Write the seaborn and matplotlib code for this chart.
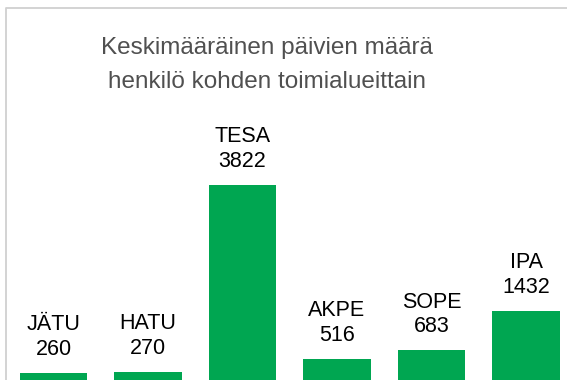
import matplotlib
matplotlib.use("Agg")
import matplotlib.pyplot as plt
import seaborn as sns
import pandas as pd
from matplotlib.lines import Line2D

# Chart data
categories = ["JÄTU", "HATU", "TESA", "AKPE", "SOPE", "IPA"]
values = [260, 270, 3822, 516, 683, 1432]
title_lines = ["Keskimääräinen päivien määrä", "henkilö kohden toimialueittain"]

W, H = 567, 380
sns.set_theme(style="white")
plt.rcParams["font.family"] = ["Liberation Sans", "DejaVu Sans"]

fig = plt.figure(figsize=(W / 100, H / 100), dpi=100)
fig.patch.set_facecolor("white")

# Plot area: the value axis runs from the zero line (just below the bottom edge) up to the frame
base_px, top_px = 386.4, 8.0
left_px, right_px = 6.25, 573.25
ymax = 7182
ax = fig.add_axes([left_px / W, (H - base_px) / H,
                   (right_px - left_px) / W, (base_px - top_px) / H])

df = pd.DataFrame({"cat": categories, "val": values})
sns.barplot(data=df, x="cat", y="val", ax=ax, color="#00A651",
            width=0.71, saturation=1, edgecolor="none")
ax.set_ylim(0, ymax)
ax.set_xlim(-0.5, len(categories) - 0.5)
ax.axis("off")

for i, (c, v) in enumerate(zip(categories, values)):
    ax.annotate(f"{c}\n{v}", xy=(i, v), xytext=(0, 9.5), textcoords="offset points",
                ha="center", va="bottom", fontsize=15.5, color="black",
                linespacing=1.22)

# Two-line title
for line, base in zip(title_lines, [54, 88]):
    fig.text(266.5 / W, 1 - base / H, line, ha="center", va="baseline",
             fontsize=17.5, color="#505050")

# Chart frame (left and top edges)
frame = Line2D([6 / W, 6 / W, 1.0], [0.0, 1 - 8 / H, 1 - 8 / H],
               transform=fig.transFigure, color="#d0d0d0", lw=1.3)
fig.add_artist(frame)

fig.savefig("out.png", dpi=100)
